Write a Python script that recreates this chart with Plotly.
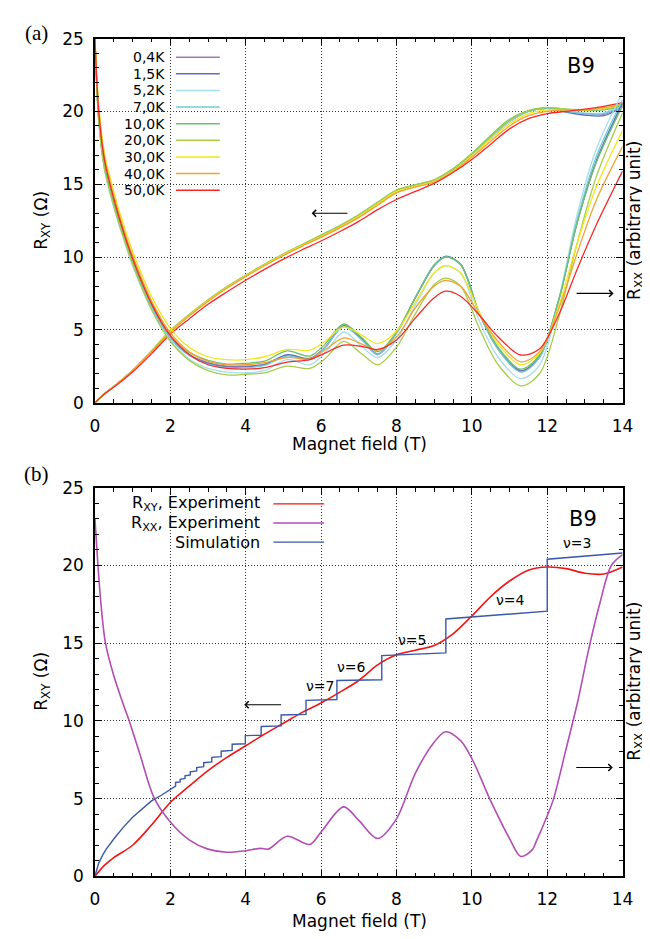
import plotly.graph_objects as go

FONT = "DejaVu Sans, Liberation Sans, Arial, sans-serif"
SERIF = "Liberation Serif, Times New Roman, serif"

# ---------------- Panel (a) data ----------------
temps = ["0,4K", "1,5K", "5,2K", "7,0K", "10,0K", "20,0K", "30,0K", "40,0K", "50,0K"]
temp_colors = ["#a07ab8", "#5b6fbf", "#a8dcee", "#74cdd6", "#6cc06c",
               "#a6cc48", "#f2e61c", "#f2a232", "#f42a2a"]

B_rxx = [0, 0.1, 0.25, 0.5, 0.75, 1.0, 1.5, 2.0, 2.5, 3.0, 3.5, 4.0, 4.5, 5.1, 5.7,
         6.1, 6.6, 7.1, 7.5, 8.0, 8.5, 9.0, 9.3, 9.7, 10.2, 10.7, 11.3, 11.8, 12.3,
         12.8, 13.3, 14.0]

rxx_04K = [25.0, 19.6, 16.3, 13.7, 11.6, 9.7, 6.7, 4.5, 3.3, 2.75, 2.5, 2.5, 2.65, 3.25, 3.05,
           3.8, 5.3, 4.35, 3.35, 4.8, 7.2, 9.4, 10.0, 9.5, 6.1, 3.7, 2.2, 3.2, 7.0,
           12.4, 16.5, 20.5]
rxx_15K = [25.0, 19.5, 16.2, 13.6, 11.5, 9.6, 6.6, 4.45, 3.25, 2.7, 2.45, 2.45, 2.6, 3.3, 3.0,
           3.75, 5.25, 4.3, 3.3, 4.75, 7.2, 9.45, 10.05, 9.5, 6.1, 3.65, 2.15, 3.15, 7.0,
           12.5, 16.6, 20.6]
rxx_52K = [25.0, 19.3, 16.0, 13.4, 11.3, 9.4, 6.4, 4.3, 3.0, 2.35, 2.1, 2.05, 2.2, 2.96, 2.6,
           3.4, 4.85, 3.8, 3.1, 4.3, 6.7, 8.9, 9.4, 8.9, 5.6, 3.1, 1.65, 2.6, 7.0,
           13.0, 17.4, 21.3]
rxx_70K = [25.0, 19.5, 16.2, 13.6, 11.5, 9.6, 6.6, 4.45, 3.25, 2.65, 2.4, 2.4, 2.55, 3.2, 2.95,
           3.75, 5.2, 4.25, 3.3, 4.75, 7.2, 9.45, 10.0, 9.5, 6.1, 3.65, 2.1, 3.1, 7.0,
           12.6, 16.9, 20.8]
rxx_10K = [25.0, 19.6, 16.3, 13.7, 11.6, 9.7, 6.8, 4.6, 3.45, 2.9, 2.65, 2.7, 2.85, 3.55, 3.2,
           4.0, 5.4, 4.4, 3.5, 4.85, 7.2, 9.4, 10.0, 9.5, 6.15, 3.8, 2.3, 3.3, 7.0,
           12.4, 16.5, 20.4]
rxx_20K = [25.0, 19.4, 16.1, 13.5, 11.4, 9.5, 6.4, 4.2, 2.9, 2.2, 1.9, 1.95, 2.05, 2.5, 2.35,
           3.0, 4.2, 3.3, 2.6, 3.8, 6.1, 8.1, 8.55, 8.0, 5.1, 2.6, 1.15, 2.0, 5.8,
           11.0, 15.5, 19.9]
rxx_30K = [25.0, 20.5, 17.2, 14.5, 12.3, 10.4, 7.3, 5.1, 3.8, 3.15, 2.95, 2.95, 3.15, 3.65, 3.6,
           4.2, 5.2, 4.6, 4.05, 4.9, 6.9, 8.9, 9.4, 8.9, 6.2, 4.0, 2.6, 3.4, 6.6,
           11.0, 14.8, 18.7]
rxx_40K = [25.0, 20.2, 16.9, 14.2, 12.0, 10.1, 7.0, 4.8, 3.5, 2.85, 2.6, 2.6, 2.75, 3.1, 3.0,
           3.6, 4.45, 4.0, 3.6, 4.5, 6.5, 8.0, 8.4, 8.0, 6.0, 4.2, 2.8, 3.5, 6.4,
           10.3, 13.9, 17.6]
rxx_50K = [25.0, 20.0, 16.7, 14.0, 11.8, 9.9, 6.8, 4.6, 3.3, 2.6, 2.35, 2.3, 2.4, 2.78, 2.95,
           3.4, 3.95, 3.85, 3.65, 4.3, 5.8, 7.2, 7.65, 7.3, 6.0, 4.5, 3.27, 3.7, 6.0,
           9.2, 12.2, 15.9]

B_rxy = [0, 0.25, 0.5, 1.0, 1.5, 2.0, 2.5, 3.0, 3.5, 4.0, 4.5, 5.0, 5.5, 6.0, 6.5, 7.0,
         7.5, 8.0, 8.5, 9.0, 9.5, 10.0, 10.5, 11.0, 11.5, 12.0, 12.5, 13.0, 13.5, 14.0]

rxy_04K = [0, 0.6, 1.1, 2.2, 3.5, 4.9, 6.0, 7.0, 7.9, 8.7, 9.45, 10.15, 10.8, 11.4, 12.05, 12.8,
           13.6, 14.5, 14.85, 15.2, 15.95, 17.0, 18.2, 19.3, 20.0, 20.2, 20.05, 19.85, 19.8, 20.3]
rxy_15K = [0, 0.6, 1.1, 2.2, 3.5, 4.9, 6.0, 7.0, 7.9, 8.7, 9.45, 10.15, 10.8, 11.4, 12.05, 12.8,
           13.6, 14.5, 14.85, 15.2, 15.95, 17.0, 18.2, 19.3, 20.0, 20.2, 19.95, 19.75, 19.7, 20.3]
rxy_52K = [0, 0.6, 1.1, 2.2, 3.5, 4.9, 6.0, 7.0, 7.9, 8.7, 9.45, 10.15, 10.8, 11.4, 12.05, 12.8,
           13.6, 14.5, 14.85, 15.2, 15.95, 17.0, 18.2, 19.3, 20.0, 20.2, 20.05, 19.9, 19.9, 20.6]
rxy_70K = [0, 0.6, 1.1, 2.2, 3.5, 4.9, 6.0, 7.0, 7.9, 8.7, 9.45, 10.15, 10.8, 11.4, 12.05, 12.8,
           13.65, 14.55, 14.9, 15.25, 16.0, 17.05, 18.25, 19.35, 20.0, 20.2, 20.0, 19.85, 19.85, 20.4]
rxy_10K = [0, 0.6, 1.1, 2.2, 3.55, 4.95, 6.05, 7.05, 7.95, 8.75, 9.5, 10.2, 10.85, 11.5, 12.15, 12.9,
           13.75, 14.6, 14.95, 15.3, 16.05, 17.1, 18.35, 19.45, 20.05, 20.25, 20.15, 20.05, 20.1, 20.4]
rxy_20K = [0, 0.6, 1.1, 2.2, 3.55, 4.95, 6.05, 7.05, 7.95, 8.75, 9.5, 10.2, 10.85, 11.5, 12.15, 12.9,
           13.75, 14.6, 14.95, 15.3, 16.05, 17.1, 18.3, 19.4, 20.05, 20.25, 20.15, 20.1, 20.15, 20.45]
rxy_30K = [0, 0.6, 1.1, 2.2, 3.5, 4.9, 6.0, 7.0, 7.9, 8.7, 9.45, 10.15, 10.8, 11.4, 12.05, 12.8,
           13.65, 14.5, 14.85, 15.2, 15.9, 16.95, 18.1, 19.15, 19.85, 20.1, 20.1, 20.1, 20.2, 20.5]
rxy_40K = [0, 0.6, 1.1, 2.2, 3.5, 4.85, 5.95, 6.95, 7.85, 8.65, 9.4, 10.1, 10.75, 11.35, 12.0, 12.7,
           13.55, 14.4, 14.8, 15.15, 15.85, 16.85, 17.95, 19.0, 19.7, 20.0, 20.1, 20.1, 20.25, 20.5]
rxy_50K = [0, 0.6, 1.05, 2.1, 3.35, 4.7, 5.75, 6.75, 7.6, 8.4, 9.15, 9.85, 10.5, 11.1, 11.75, 12.45,
           13.25, 13.95, 14.5, 15.05, 15.8, 16.7, 17.75, 18.8, 19.5, 19.85, 20.0, 20.15, 20.35, 20.6]

rxx_all = [rxx_04K, rxx_15K, rxx_52K, rxx_70K, rxx_10K, rxx_20K, rxx_30K, rxx_40K, rxx_50K]
rxy_all = [rxy_04K, rxy_15K, rxy_52K, rxy_70K, rxy_10K, rxy_20K, rxy_30K, rxy_40K, rxy_50K]

# ---------------- Panel (b) data ----------------
B_exp_rxy = [0, 0.25, 0.5, 1.0, 1.5, 2.0, 2.5, 3.0, 3.5, 4.0, 4.5, 5.0, 5.5, 6.0, 6.5, 7.0,
             7.5, 8.0, 8.5, 9.0, 9.5, 10.0, 10.5, 11.0, 11.5, 12.0, 12.5, 13.0, 13.5, 14.0]
exp_rxy = [0, 0.7, 1.2, 2.0, 3.3, 4.75, 5.8, 6.8, 7.65, 8.4, 9.15, 9.85, 10.55, 11.15, 11.85, 12.6,
           13.6, 14.25, 14.55, 14.85, 15.6, 16.75, 18.0, 19.0, 19.7, 19.9, 19.8, 19.5, 19.45, 19.9]

B_exp_rxx = [0, 0.08, 0.15, 0.28, 0.5, 0.74, 0.91, 1.2, 1.58, 2.0, 2.5, 3.0, 3.5, 4.0, 4.4, 4.6,
             5.1, 5.7, 6.0, 6.6, 7.0, 7.5, 8.0, 8.5, 9.0, 9.3, 9.7, 10.0, 10.5, 11.0, 11.3,
             11.6, 11.7, 12.0, 12.17, 12.5, 12.8, 13.1, 13.4, 13.7, 14.0]
exp_rxx = [23.0, 20.0, 17.8, 15.0, 12.9, 11.15, 10.0, 7.8, 5.0, 3.5, 2.35, 1.75, 1.55, 1.65, 1.8, 1.75,
           2.58, 2.05, 2.85, 4.47, 3.6, 2.43, 3.7, 6.63, 8.63, 9.3, 8.73, 7.58, 4.85, 2.43, 1.28,
           1.7, 2.2, 3.9, 5.0, 8.2, 11.15, 14.6, 17.6, 20.0, 20.7]

# simulation: smooth low-field part, then quantised steps
sim_smooth_B = [0, 0.05, 0.1, 0.2, 0.3, 0.5, 0.75, 1.0, 1.25, 1.5, 1.75, 2.0, 2.14]
sim_smooth_R = [0, 0.5, 0.85, 1.35, 1.75, 2.4, 3.15, 3.8, 4.35, 4.85, 5.2, 5.6, 5.8]
sim_step_B = [2.14, 2.26, 2.39, 2.53, 2.70, 2.885, 3.10, 3.35, 3.64, 3.99, 4.41, 4.94,
              5.60, 6.42, 7.61, 9.31, 12.0]
sim_plateau_start = [6.04, 6.24, 6.47, 6.72, 7.0, 7.31, 7.65, 8.05, 8.5, 9.05, 9.64, 10.38,
                     11.32, 12.6, 14.2, 16.56, 20.4]
sim_plateau_end = [6.08, 6.3, 6.52, 6.78, 7.05, 7.36, 7.7, 8.1, 8.53, 9.08, 9.68, 10.42,
                   11.38, 12.65, 14.38, 17.06, 20.8]
B_max = 14.0

nu_labels = ["ν=7", "ν=6", "ν=5", "ν=4", "ν=3"]
nu_B = [5.97, 6.8, 8.4, 11.03, 12.8]
nu_R = [12.25, 13.5, 15.2, 17.75, 21.45]

legend_b = ["R<sub>XY</sub>, Experiment", "R<sub>XX</sub>, Experiment", "Simulation"]
colors_b = ["#ee1616", "#b24db4", "#3a58aa"]

# ---------------- Figure ----------------
fig = go.Figure()

for name, col, yy in zip(temps, temp_colors, rxy_all):
    fig.add_trace(go.Scatter(x=B_rxy, y=yy, mode="lines", name=name, showlegend=False,
                             line=dict(color=col, width=1.3, shape="spline", smoothing=0.9),
                             xaxis="x", yaxis="y"))
for name, col, yy in zip(temps, temp_colors, rxx_all):
    fig.add_trace(go.Scatter(x=B_rxx, y=yy, mode="lines", name=name, showlegend=False,
                             line=dict(color=col, width=1.3, shape="spline", smoothing=0.9),
                             xaxis="x", yaxis="y"))

# panel (b)
fig.add_trace(go.Scatter(x=B_exp_rxy, y=exp_rxy, mode="lines", showlegend=False,
                         line=dict(color=colors_b[0], width=1.6, shape="spline", smoothing=0.9),
                         xaxis="x2", yaxis="y2"))
fig.add_trace(go.Scatter(x=B_exp_rxx, y=exp_rxx, mode="lines", showlegend=False,
                         line=dict(color=colors_b[1], width=1.6, shape="spline", smoothing=0.9),
                         xaxis="x2", yaxis="y2"))

sim_x = list(sim_smooth_B)
sim_y = list(sim_smooth_R)
for i, b in enumerate(sim_step_B):
    b_next = sim_step_B[i + 1] if i + 1 < len(sim_step_B) else B_max
    sim_x += [b, b_next]
    sim_y += [sim_plateau_start[i], sim_plateau_end[i]]
fig.add_trace(go.Scatter(x=sim_x, y=sim_y, mode="lines", showlegend=False,
                         line=dict(color=colors_b[2], width=1.4),
                         xaxis="x2", yaxis="y2"))

# ---------------- Axes ----------------
W, H = 650, 939
XL, XR = 84 / W, 625 / W
top_dom = [(H - 393) / H, (H - 21) / H]
bot_dom = [(H - 877) / H, (H - 480) / H]

tickfont = dict(family=FONT, size=17, color="black")
GRID = dict(showgrid=True, gridcolor="#333", griddash="1px,2px", gridwidth=1)
xcommon = dict(range=[0, 14], tick0=0, dtick=2, ticks="inside", ticklen=7, tickcolor="black",
               minor=dict(dtick=0.5, ticks="inside", ticklen=4, tickcolor="black", showgrid=False),
               showline=True, linecolor="black", linewidth=1.5, mirror="allticks",
               zeroline=False, tickfont=tickfont, ticklabelstandoff=7, domain=[XL, XR], **GRID)
ycommon = dict(range=[0, 25], tick0=0, dtick=5, ticks="inside", ticklen=7, tickcolor="black",
               minor=dict(dtick=1, ticks="inside", ticklen=4, tickcolor="black", showgrid=False),
               showline=True, linecolor="black", linewidth=1.5, mirror="allticks",
               zeroline=False, tickfont=tickfont, ticklabelstandoff=6, **GRID)

fig.update_layout(
    width=W, height=H, autosize=False,
    margin=dict(l=0, r=0, t=0, b=0),
    paper_bgcolor="white", plot_bgcolor="white",
    showlegend=False,
    xaxis=dict(**xcommon, anchor="y"),
    yaxis=dict(**ycommon, domain=top_dom, anchor="x"),
    xaxis2=dict(**xcommon, anchor="y2"),
    yaxis2=dict(**ycommon, domain=bot_dom, anchor="x2"),
    font=dict(family=FONT, color="black"),
)

ann = []
shapes = []
def py(p):
    return (H - p) / H
def px(p):
    return p / W

C = dict(xanchor="center", yanchor="middle", showarrow=False)

# panel labels
ann.append(dict(text="(a)", x=px(24), y=py(15), xref="paper", yref="paper",
                font=dict(family=SERIF, size=21, color="black"), **C))
ann.append(dict(text="(b)", x=px(24), y=py(466), xref="paper", yref="paper",
                font=dict(family=SERIF, size=21, color="black"), **C))

# axis titles
for yc, xc in [(207, 435), (678, 923)]:
    ann.append(dict(text="Magnet field (T)", x=px(355), y=py(xc), xref="paper", yref="paper",
                    font=dict(family=FONT, size=17, color="black"), **C))
    ann.append(dict(text="R<sub>XY</sub> (Ω)", x=px(30), y=py(yc), xref="paper", yref="paper",
                    textangle=-90, font=dict(family=FONT, size=17, color="black"), **C))
    ann.append(dict(text="R<sub>XX</sub> (arbitrary unit)", x=px(638), y=py(yc), xref="paper",
                    yref="paper", textangle=-90, borderpad=0,
                    font=dict(family=FONT, size=17, color="black"), **C))

# B9 labels
ann.append(dict(text="B9", x=12.9, y=23.1, xref="x", yref="y",
                font=dict(family=FONT, size=21, color="black"), **C))
ann.append(dict(text="B9", x=12.95, y=23.0, xref="x2", yref="y2",
                font=dict(family=FONT, size=21, color="black"), **C))

# nu labels
for t, bx, by in zip(nu_labels, nu_B, nu_R):
    ann.append(dict(text=t, x=bx, y=by, xref="x2", yref="y2",
                    font=dict(family=FONT, size=14, color="black"), **C))

# arrows
arrow_style = dict(showarrow=True, arrowhead=4, arrowsize=1.2, arrowwidth=1.1,
                   arrowcolor="black", text="")
ann.append(dict(x=5.75, y=13.0, ax=6.74, ay=13.0, xref="x", yref="y", axref="x", ayref="y",
                **arrow_style))
ann.append(dict(x=13.76, y=7.5, ax=12.74, ay=7.5, xref="x", yref="y", axref="x", ayref="y",
                **arrow_style))
ann.append(dict(x=3.96, y=11.04, ax=4.98, ay=11.04, xref="x2", yref="y2", axref="x2",
                ayref="y2", **arrow_style))
ann.append(dict(x=13.74, y=7.0, ax=12.73, ay=7.0, xref="x2", yref="y2", axref="x2",
                ayref="y2", **arrow_style))

# legend panel (a)
for i, (t, c) in enumerate(zip(temps, temp_colors)):
    yrow = 40 + 17 * i
    ann.append(dict(text=t, x=px(157), y=py(yrow), xref="paper", yref="paper", showarrow=False,
                    xanchor="right", yanchor="middle", borderpad=0,
                    font=dict(family=FONT, size=14, color="black")))
    shapes.append(dict(type="line", xref="paper", yref="paper", x0=px(167), x1=px(212),
                       y0=py(yrow), y1=py(yrow), line=dict(color=c, width=1.5)))

# legend panel (b)
for i, (t, c) in enumerate(zip(legend_b, colors_b)):
    yrow = [496.5, 516, 535.5][i]
    ann.append(dict(text=t, x=px(254), y=py(yrow), xref="paper", yref="paper",
                    showarrow=False, xanchor="right", yanchor="middle", borderpad=0,
                    font=dict(family=FONT, size=16, color="black")))
    shapes.append(dict(type="line", xref="paper", yref="paper", x0=px(267), x1=px(319),
                       y0=py(yrow), y1=py(yrow), line=dict(color=c, width=1.3)))

fig.update_layout(annotations=ann, shapes=shapes)
fig.write_html("out.html")
